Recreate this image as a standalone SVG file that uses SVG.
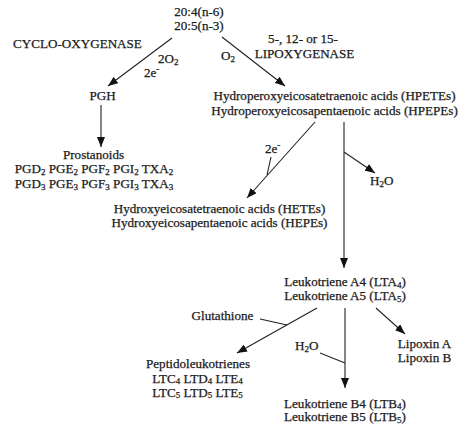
<svg xmlns="http://www.w3.org/2000/svg" width="462" height="424" viewBox="0 0 462 424">
<style>
text{font-family:"Liberation Serif","Times New Roman",serif;font-size:13.1px;fill:#1a1a1a;stroke:#1a1a1a;stroke-width:0.25}
.m{text-anchor:middle}
.s{font-size:9px}
.c line,.c path{stroke:#222;stroke-width:1.1;fill:none}
.a{marker-end:url(#ah)}
</style>
<defs>
<marker id="ah" viewBox="0 0 10 8" refX="10" refY="4" markerWidth="10" markerHeight="8" markerUnits="userSpaceOnUse" orient="auto">
<path d="M0,0 L10,4 L0,8 z" fill="#111"/>
</marker>
</defs>
<rect width="462" height="424" fill="#fff"/>
<g class="c" id="connectors">
<line class="a" x1="172" y1="38" x2="108" y2="86"/>
<line class="a" x1="222" y1="37" x2="285" y2="86"/>
<line class="a" x1="101" y1="105" x2="101" y2="147"/>
<line class="a" x1="315" y1="122" x2="247" y2="198"/>
<line x1="271" y1="157" x2="267" y2="175"/>
<line class="a" x1="344" y1="122" x2="344" y2="268"/>
<line class="a" x1="344" y1="152" x2="375" y2="173"/>
<line class="a" x1="317" y1="308" x2="237" y2="353"/>
<line x1="260" y1="319" x2="287" y2="325"/>
<line class="a" x1="345" y1="308" x2="345" y2="388"/>
<line x1="320" y1="353" x2="345" y2="363"/>
<line class="a" x1="376" y1="308" x2="405" y2="334"/>
</g>
<g id="n-fa"><text class="m" x="199" y="16">20:4(n-6)</text><text class="m" x="199" y="30">20:5(n-3)</text></g>
<g id="l-cox"><text class="m" x="77.5" y="48">CYCLO-OXYGENASE</text></g>
<g id="l-2o2"><text x="158" y="63">2O<tspan class="s" dy="1.5">2</tspan></text><text x="144" y="77">2e<tspan class="s" dy="-5">-</tspan></text></g>
<g id="l-lox"><text class="m" x="303" y="43">5-, 12- or 15-</text><text class="m" x="304.5" y="58">LIPOXYGENASE</text><text x="221" y="60">O<tspan class="s" dy="1.5">2</tspan></text></g>
<g id="n-pgh"><text class="m" x="102.5" y="100">PGH</text></g>
<g id="n-hpete"><text class="m" x="334.5" y="100">Hydroperoxyeicosatetraenoic acids (HPETEs)</text><text class="m" x="334.5" y="115">Hydroperoxyeicosapentaenoic acids (HPEPEs)</text></g>
<g id="n-prost"><text class="m" x="93.5" y="158.5">Prostanoids</text>
<text class="m" x="94" y="173">PGD<tspan class="s" dy="1.5">2</tspan><tspan dy="-1.5"> PGE</tspan><tspan class="s" dy="1.5">2</tspan><tspan dy="-1.5"> PGF</tspan><tspan class="s" dy="1.5">2</tspan><tspan dy="-1.5"> PGI</tspan><tspan class="s" dy="1.5">2</tspan><tspan dy="-1.5"> TXA</tspan><tspan class="s" dy="1.5">2</tspan></text>
<text class="m" x="94" y="188">PGD<tspan class="s" dy="1.5">3</tspan><tspan dy="-1.5"> PGE</tspan><tspan class="s" dy="1.5">3</tspan><tspan dy="-1.5"> PGF</tspan><tspan class="s" dy="1.5">3</tspan><tspan dy="-1.5"> PGI</tspan><tspan class="s" dy="1.5">3</tspan><tspan dy="-1.5"> TXA</tspan><tspan class="s" dy="1.5">3</tspan></text></g>
<g id="l-2e"><text x="265" y="153">2e<tspan class="s" dy="-5">-</tspan></text></g>
<g id="n-h2o1"><text x="370" y="185">H<tspan class="s" dy="1.5">2</tspan><tspan dy="-1.5">O</tspan></text></g>
<g id="n-hete"><text class="m" x="219.5" y="213">Hydroxyeicosatetraenoic acids (HETEs)</text><text class="m" x="219.5" y="227">Hydroxyeicosapentaenoic acids (HEPEs)</text></g>
<g id="n-lta"><text class="m" x="345" y="286">Leukotriene A4 (LTA<tspan class="s" dy="1.5">4</tspan><tspan dy="-1.5">)</tspan></text><text class="m" x="345" y="300">Leukotriene A5 (LTA<tspan class="s" dy="1.5">5</tspan><tspan dy="-1.5">)</tspan></text></g>
<g id="l-glut"><text class="m" x="222.5" y="320">Glutathione</text></g>
<g id="l-h2o2"><text x="295" y="350">H<tspan class="s" dy="1.5">2</tspan><tspan dy="-1.5">O</tspan></text></g>
<g id="n-lipox"><text class="m" x="424.5" y="348">Lipoxin A</text><text class="m" x="424.5" y="362">Lipoxin B</text></g>
<g id="n-pep"><text class="m" x="198" y="368">Peptidoleukotrienes</text>
<text class="m" x="197.5" y="382.5">LTC<tspan class="s" dy="1.5">4</tspan><tspan dy="-1.5"> LTD</tspan><tspan class="s" dy="1.5">4</tspan><tspan dy="-1.5"> LTE</tspan><tspan class="s" dy="1.5">4</tspan></text>
<text class="m" x="197.5" y="396.5">LTC<tspan class="s" dy="1.5">5</tspan><tspan dy="-1.5"> LTD</tspan><tspan class="s" dy="1.5">5</tspan><tspan dy="-1.5"> LTE</tspan><tspan class="s" dy="1.5">5</tspan></text></g>
<g id="n-ltb"><text class="m" x="345" y="407.5">Leukotriene B4 (LTB<tspan class="s" dy="1.5">4</tspan><tspan dy="-1.5">)</tspan></text><text class="m" x="345" y="421">Leukotriene B5 (LTB<tspan class="s" dy="1.5">5</tspan><tspan dy="-1.5">)</tspan></text></g>
</svg>
